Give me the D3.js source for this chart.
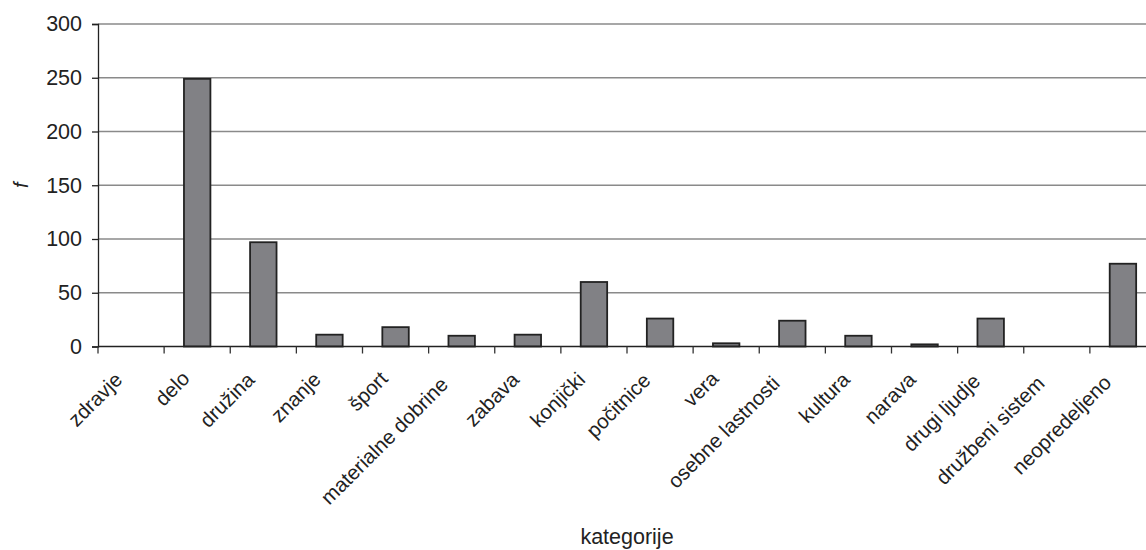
<!DOCTYPE html>
<html>
<head>
<meta charset="utf-8">
<script src="https://cdn.jsdelivr.net/npm/d3@7"></script>
<style>
  body { margin: 0; background: #fff; }
  svg { display: block; font-family: "Liberation Sans", Arial, sans-serif; }
</style>
</head>
<body>
<div id="main"></div>
<script>
const categories = ['zdravje', 'delo', 'družina', 'znanje', 'šport', 'materialne dobrine',
  'zabava', 'konjički', 'počitnice', 'vera', 'osebne lastnosti', 'kultura', 'narava',
  'drugi ljudje', 'družbeni sistem', 'neopredeljeno'];
const values = [0, 249, 97, 11, 18, 10, 11, 60, 26, 3, 24, 10, 2, 26, 0, 77];
const yTicks = [0, 50, 100, 150, 200, 250, 300];
const xTitle = 'kategorije', yTitle = 'f';

const width = 1146, height = 550;
const margin = { top: 24, right: -10, bottom: 203.5, left: 98 };

const sx = d3.scaleBand()
  .domain(categories)
  .range([margin.left, width - margin.right]);
const sy = d3.scaleLinear()
  .domain([0, 300])
  .range([height - margin.bottom, margin.top]);

const svg = d3.select('#main').append('svg')
  .attr('width', width).attr('height', height)
  .attr('viewBox', [0, 0, width, height]);

const y0 = sy(0), bw = sx.bandwidth();

// gridlines
svg.append('g').selectAll('line').data(yTicks.filter(d => d > 0)).join('line')
  .attr('x1', margin.left).attr('x2', width - margin.right)
  .attr('y1', d => sy(d)).attr('y2', d => sy(d))
  .attr('stroke', '#8a8a8a').attr('stroke-width', 1.3);

// y axis
const ay = svg.append('g').attr('transform', `translate(${margin.left},0)`)
  .call(d3.axisLeft(sy).tickValues(yTicks).tickSize(6).tickPadding(10));
ay.select('.domain').attr('stroke', '#222').attr('stroke-width', 1.3);
ay.selectAll('.tick line').attr('stroke', '#222').attr('stroke-width', 1.3);
ay.selectAll('.tick text').attr('font-size', 21.5).attr('fill', '#222')
  .attr('font-family', '"Liberation Sans", Arial, sans-serif');

// bars
svg.append('g').selectAll('rect').data(categories).join('rect')
  .attr('x', d => sx(d) + bw * 0.3)
  .attr('width', bw * 0.4)
  .attr('y', (d, i) => sy(values[i]))
  .attr('height', (d, i) => y0 - sy(values[i]))
  .attr('fill', '#818185')
  .attr('stroke', '#222')
  .attr('stroke-width', 1.8)
  .attr('display', (d, i) => values[i] > 0 ? null : 'none');

// x axis line and ticks at category edges
svg.append('line')
  .attr('x1', margin.left).attr('x2', width - margin.right)
  .attr('y1', y0).attr('y2', y0)
  .attr('stroke', '#222').attr('stroke-width', 1.3);
const edges = categories.map(c => sx(c)).concat([sx.range()[1]]);
svg.append('g').selectAll('line').data(edges).join('line')
  .attr('x1', d => d).attr('x2', d => d)
  .attr('y1', y0).attr('y2', y0 + 7)
  .attr('stroke', '#333').attr('stroke-width', 1.3);

// rotated category labels (long labels sit slightly further back, as in the original)
svg.append('g').selectAll('text').data(categories).join('text')
  .attr('transform', d => `translate(${sx(d) + bw / 2 - 4.5},${y0 + 31.5}) rotate(-45)`)
  .attr('text-anchor', 'end')
  .attr('font-size', 20.5)
  .attr('fill', '#222')
  .text(d => d)
  .attr('dx', function() { return -0.065 * this.getComputedTextLength(); });

// axis titles
svg.append('text')
  .attr('x', (sx.range()[0] + sx.range()[1]) / 2).attr('y', 544)
  .attr('text-anchor', 'middle').attr('font-size', 21.5).attr('fill', '#222')
  .text(xTitle);
svg.append('text')
  .attr('transform', `translate(28,${(sy.range()[0] + sy.range()[1]) / 2}) rotate(-90)`)
  .attr('text-anchor', 'middle').attr('font-size', 20).attr('font-style', 'italic').attr('fill', '#222')
  .text(yTitle);
</script>
</body>
</html>
